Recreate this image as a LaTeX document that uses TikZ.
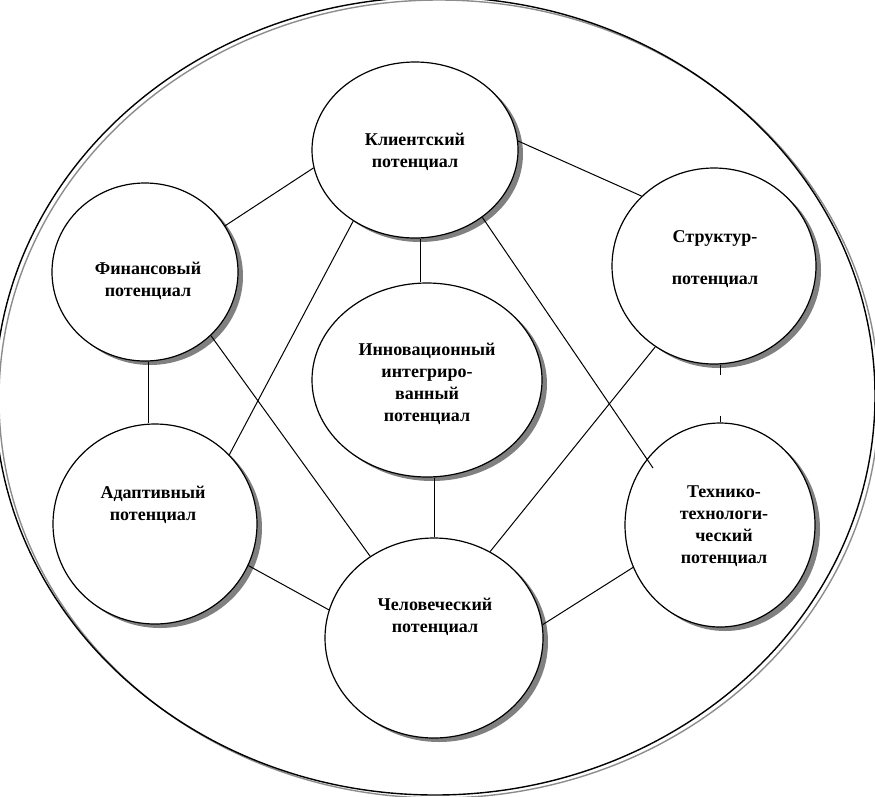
\documentclass[tikz,border=0pt]{standalone}
\usepackage{fontspec}
\setmainfont{Liberation Serif}
\usetikzlibrary{shapes.geometric,shadows}
\begin{document}
\begin{tikzpicture}[x=1pt,y=-1pt,
  pot/.style={ellipse, draw=black, line width=1.2pt, fill=white, inner sep=0pt,
    drop shadow={shadow xshift=5pt, shadow yshift=-4pt, fill=black!50, opacity=1}},
  lbl/.style={align=center, font=\bfseries\fontsize{18}{22}\selectfont, inner sep=0pt},
  link/.style={line width=1pt, draw=black}]
\useasboundingbox (0,0) rectangle (875,796);
% outer ellipse with its gray copy
\draw[line width=1.4pt, black!45] (439,399) ellipse [x radius=440pt, y radius=399pt];
\draw[line width=1.4pt] (435,396) ellipse [x radius=440pt, y radius=399pt];
% potentials
\node[pot, minimum width=206pt, minimum height=176pt] (client) at (415,150) {};
\node[pot, minimum width=186pt, minimum height=178pt] (fin) at (145,272) {};
\node[pot, minimum width=204pt, minimum height=196pt] (struct) at (714,266) {};
\node[pot, minimum width=230pt, minimum height=194pt] (innov) at (427,380) {};
\node[pot, minimum width=204pt, minimum height=200pt] (adapt) at (155,524) {};
\node[pot, minimum width=190pt, minimum height=204pt] (tech) at (720,525) {};
\node[pot, minimum width=218pt, minimum height=200pt] (human) at (434,638) {};
% labels
\node[lbl] (tclient) at (415,152) {Клиентский\\потенциал};
\node[lbl] (tfin) at (148,281) {Финансовый\\потенциал};
\node[lbl] (tstruct) at (715,259) {Структур-\\[20pt]потенциал};
\node[lbl] (tinnov) at (427,384) {Инновационный\\интегриро-\\ванный\\потенциал};
\node[lbl] (tadapt) at (153,505) {Адаптивный\\потенциал};
\node[lbl] (ttech) at (724,526) {Технико-\\технологи-\\ческий\\потенциал};
\node[lbl] (thuman) at (435,617) {Человеческий\\потенциал};
% connectors
\coordinate (ctend) at (653,468);
\draw[link] (client.190) -- (fin.30);
\draw[link] (client.5) -- (struct.136);
\draw[link] ([xshift=5pt]client.south) -- ([xshift=-7pt]innov.north);
\draw[link] (client.229) -- (adapt.43);
\draw[link] (client.315) -- (ctend);
\draw[link] ([xshift=3pt]fin.south) -- ([xshift=-7pt]adapt.north);
\draw[link] (fin.316) -- (human.128);
\draw[link, dash pattern=on 10pt off 41pt on 10pt] ([xshift=6pt]struct.south) -- (tech.north);
\draw[link] (struct.234) -- (human.57);
\draw[link] ([xshift=7pt]innov.south) -- (human.north);
\draw[link] (adapt.336) -- (human.165);
\draw[link] (tech.206) -- (human.7);
\end{tikzpicture}
\end{document}
